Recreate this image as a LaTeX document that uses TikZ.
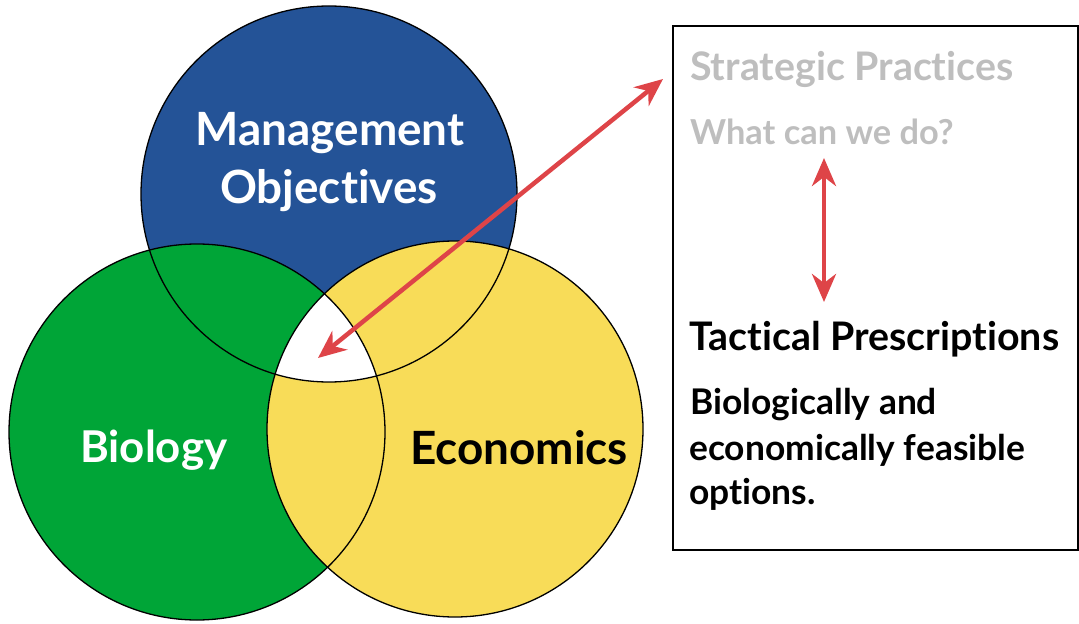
\documentclass[tikz,border=0pt]{standalone}
\usepackage{fontspec}
\setmainfont{Lato}[Ligatures=NoCommon]
\usetikzlibrary{arrows.meta}
\definecolor{mblue}{RGB}{36,83,151}
\definecolor{mgreen}{RGB}{0,165,55}
\definecolor{myellow}{RGB}{248,220,88}
\definecolor{mred}{RGB}{222,68,72}
\definecolor{mgray}{RGB}{190,190,190}
\tikzset{
  outline/.style={draw=black, line width=1.3bp},
  redarrow/.style={draw=mred, line width=4.5bp,
    {Stealth[length=28bp,width=24bp,inset=9bp]}-{Stealth[length=28bp,width=24bp,inset=9bp]}},
  bigtxt/.style={font=\bfseries\fontsize{46}{50}\selectfont, inner sep=0pt},
  boxtxt/.style={font=\bfseries\fontsize{35.5}{40}\selectfont, inner sep=0pt, anchor=base west},
}
\begin{document}
\begin{tikzpicture}[x=1bp,y=-1bp]
\useasboundingbox (0,0) rectangle (1079,624);
\coordinate (cM) at (329,194);
\coordinate (cB) at (197,432);
\coordinate (cE) at (455,429);
% fills
\fill[mblue] (cM) circle[radius=188bp];
\fill[mgreen] (cB) circle[radius=188bp];
\fill[myellow] (cE) circle[radius=188bp];
\begin{scope}
  \clip (cM) circle[radius=188bp];
  \clip (cB) circle[radius=188bp];
  \fill[white] (cE) circle[radius=188bp];
\end{scope}
% outlines
\draw[outline] (cM) circle[radius=188bp];
\draw[outline] (cB) circle[radius=188bp];
\draw[outline] (cE) circle[radius=188bp];
% circle labels
\node[bigtxt, text=white, anchor=base] (mgmt) at (330,146) {Management};
\node[bigtxt, text=white, anchor=base] (obj) at (329,204) {Objectives};
\node[bigtxt, text=white, anchor=base west, font=\bfseries\fontsize{44}{50}\selectfont] (bio) at (80,462) {Biology};
\node[bigtxt, text=black, anchor=base west] (eco) at (410,464) {Economics};
% box
\node[draw=black, line width=2bp, minimum width=405bp, minimum height=524bp, inner sep=0pt, anchor=north west] (box) at (672,25) {};
\node[boxtxt, text=mgray, font=\bfseries\fontsize{39.5}{44}\selectfont] (sp) at (690,81) {Strategic Practices};
\node[boxtxt, text=mgray, font=\bfseries\fontsize{34.5}{40}\selectfont] (wc) at (690,145) {What can we do?};
\node[boxtxt, font=\bfseries\fontsize{39.5}{44}\selectfont] (tp) at (689,350) {Tactical Prescriptions};
\node[boxtxt] (l1) at (690,414) {Biologically and};
\node[boxtxt] (l2) at (689,460) {economically feasible};
\node[boxtxt] (l3) at (689,504) {options.};
% arrows
\coordinate (tri) at (318,358);
\coordinate (sptip) at (663,79);
\draw[redarrow] (tri) -- (sptip);
\coordinate (vtop) at (824,158);
\coordinate (vbot) at (824,302);
\draw[redarrow] (vtop) -- (vbot);
\end{tikzpicture}
\end{document}
